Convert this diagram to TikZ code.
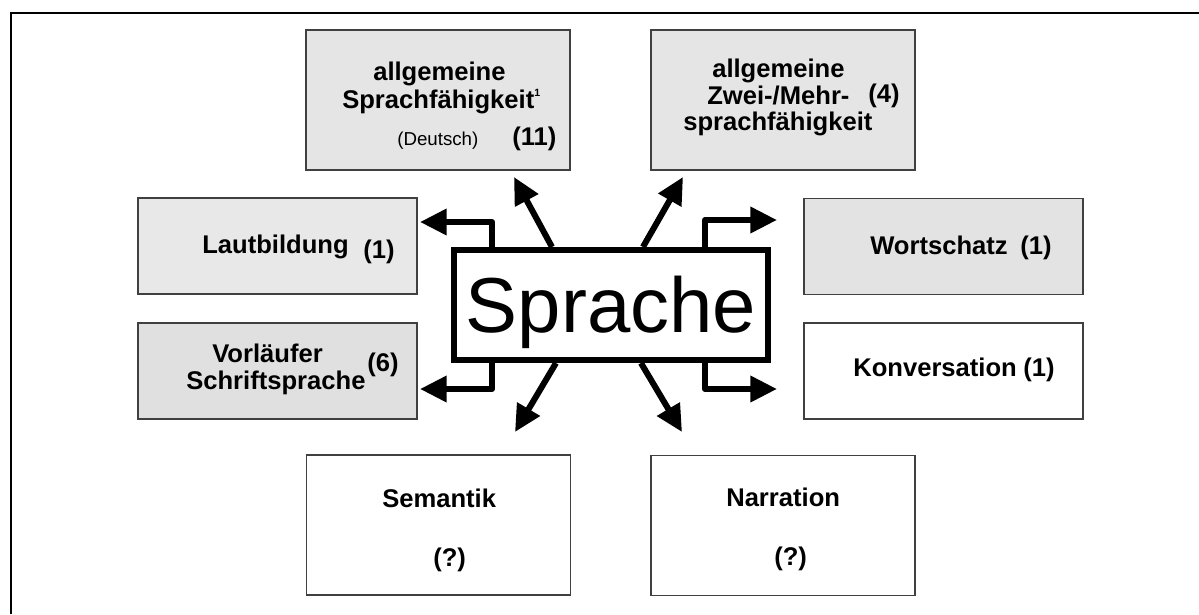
\documentclass[tikz,border=0pt]{standalone}
\usepackage{fontspec}
\setmainfont{Liberation Sans}
\usetikzlibrary{arrows.meta}
\definecolor{gTop}{HTML}{E5E5E5}
\definecolor{gLaut}{HTML}{E8E8E8}
\definecolor{gVor}{HTML}{E0E0E0}
\definecolor{gWort}{HTML}{E3E3E3}
\definecolor{bord}{HTML}{404040}
\newcommand{\bigbf}{\bfseries\fontsize{18.2}{22}\selectfont}
\begin{document}
\begin{tikzpicture}[x=0.025cm,y=-0.025cm,
  box/.style={draw=bord, line width=0.8pt, inner sep=0pt},
  tallbox/.style={box, minimum width=6.6cm, minimum height=3.5cm},
  widebox/.style={box, minimum width=6.975cm, minimum height=2.4cm},
  lbl/.style={anchor=base west, inner sep=0pt, font=\bigbf},
  arr/.style={line width=4.3pt, line join=round, -{Triangle[length=19pt,width=18pt]}},
  spbox/.style={draw, line width=4.3pt, minimum width=7.85cm, minimum height=2.75cm,
    inner sep=0pt, text height=39.4pt, text depth=0pt, font=\fontsize{55.4}{60}\selectfont}]
\useasboundingbox (0,0) rectangle (1199,614);
% outer frame (only top and left edges visible)
\draw[line width=1.5pt] (11,614) -- (11,13) -- (1199,13);

% boxes
\node[tallbox, fill=gTop] (b1) at (438,100) {};
\node[tallbox, fill=gTop] (b2) at (783,100) {};
\node[widebox, fill=gLaut] (b3) at (277.5,246) {};
\node[widebox, fill=gVor] (b4) at (277.5,371) {};
\node[widebox, fill=gWort] (b5) at (943.5,246.5) {};
\node[widebox, fill=white] (b6) at (943.5,371) {};
\node[tallbox, fill=white] (b7) at (438.5,525) {};
\node[tallbox, fill=white] (b8) at (783,525.5) {};

% texts
\node[lbl] (t1a) at (373,80) {allgemeine};
\node[lbl] (t1b) at (342,108) {Sprachfähigkeit\raisebox{8pt}{\bfseries\fontsize{7.5}{8}\selectfont 1}};
\node[anchor=base west, inner sep=0pt, font=\fontsize{13.3}{15}\selectfont] (t1c) at (397,145) {(Deutsch)};
\node[lbl] (t1d) at (512,145) {(11)};

\node[lbl] (t2a) at (712,77) {allgemeine};
\node[lbl] (t2b) at (707,104) {Zwei-/Mehr-};
\node[lbl] (t2c) at (868,102) {(4)};
\node[lbl] (t2d) at (683,130) {sprachfähigkeit};

\node[lbl] (t3a) at (202,253) {Lautbildung};
\node[lbl] (t3b) at (363,258) {(1)};

\node[lbl] (t4a) at (212,362) {Vorläufer};
\node[lbl] (t4b) at (186,389) {Schriftsprache};
\node[lbl] (t4c) at (367,371) {(6)};

\node[lbl] (t5a) at (870,254) {Wortschatz};
\node[lbl] (t5b) at (1020,254) {(1)};

\node[lbl] (t6a) at (853,376) {Konversation};
\node[lbl] (t6b) at (1023,376) {(1)};

\node[lbl] (t7a) at (382,507) {Semantik};
\node[lbl] (t7b) at (433,566) {(?)};

\node[lbl] (t8a) at (726,506) {Narration};
\node[lbl] (t8b) at (774,565) {(?)};

% central node
\node[spbox] (sp) at (611,305) {Sprache};

% arrow tips
\coordinate (eLT) at (420,222);
\coordinate (eLB) at (420,389);
\coordinate (eRT) at (777,220);
\coordinate (eRB) at (777,389);
\coordinate (eDTL) at (514,177);
\coordinate (eDTR) at (683,177);
\coordinate (eDBL) at (515,432);
\coordinate (eDBR) at (682,432);

% arrows
\draw[arr] ([xshift=1.025cm]sp.north west) |- (eLT);
\draw[arr] ([xshift=1.025cm]sp.south west) |- (eLB);
\draw[arr] ([xshift=6.35cm]sp.north west) |- (eRT);
\draw[arr] ([xshift=6.35cm]sp.south west) |- (eRB);
\draw[arr] ([xshift=2.525cm]sp.north west) -- (eDTL);
\draw[arr] ([xshift=4.8cm]sp.north west) -- (eDTR);
\draw[arr] ([xshift=2.625cm]sp.south west) -- (eDBL);
\draw[arr] ([xshift=4.75cm]sp.south west) -- (eDBR);
\end{tikzpicture}
\end{document}
